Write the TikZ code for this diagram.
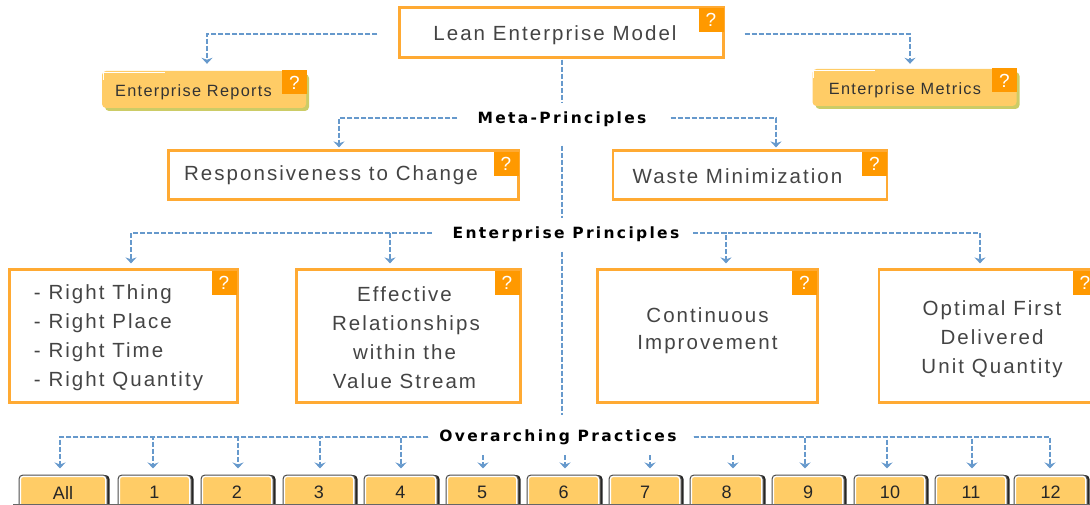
\documentclass[tikz,border=0pt]{standalone}
\usepackage{fontspec}
\setmainfont{Liberation Sans}
\newfontfamily\widefont[LetterSpace=10]{Liberation Sans}
\newfontfamily\goldfont[LetterSpace=8]{Liberation Sans}
\newfontfamily\headfont[LetterSpace=15]{DejaVu Sans Bold}
\usetikzlibrary{arrows.meta}
\definecolor{framecol}{HTML}{FFAA33}
\definecolor{badgecol}{HTML}{FF9900}
\definecolor{goldcol}{HTML}{FFCC66}
\definecolor{olivecol}{HTML}{CCCC66}
\definecolor{linkcol}{HTML}{6699CC}
\definecolor{inkcol}{HTML}{444444}
\newcommand{\padtop}[1]{\rule{0pt}{#1}}
\newcommand{\padend}[1]{\rule[-#1]{0pt}{#1}}
\tikzset{
  framebox/.style={draw=framecol,line width=2.2pt,fill=white,inner sep=0pt,text=inkcol,align=center,font=\widefont\fontsize{20.5}{29}\selectfont},
  badge/.style={fill=badgecol,text=white,inner sep=0pt,minimum width=25pt,minimum height=24pt,font=\fontsize{19}{19}\selectfont},
  goldbox/.style={fill=goldcol,rounded corners=4pt,inner sep=0pt,text=black!80,font=\goldfont\fontsize{16.3}{20}\selectfont,
    preaction={fill=olivecol,transform canvas={shift={(3pt,-3pt)}}}},
  tabbox/.style={draw=black!70,line width=1pt,fill=goldcol,rounded corners=4pt,inner sep=0pt,minimum height=35pt,text=black!85,
    font=\fontsize{18}{20}\selectfont,
    preaction={fill=black!85,transform canvas={shift={(2.5pt,0pt)}}},
    path picture={\draw[white,line width=4pt] (path picture bounding box.south west) rectangle (path picture bounding box.north east);}},
  headlabel/.style={inner sep=0pt,text=black,font=\headfont\fontsize{15.5}{18}\selectfont},
  link/.style={draw=linkcol,line width=1.4pt,dash pattern=on 5pt off 2pt,-{Stealth[width=11pt,length=6pt]}},
  spine/.style={draw=linkcol,line width=2pt,dash pattern=on 5pt off 2pt},
  elbow/.style={to path={-| (\tikztotarget)}},
  glint/.style={draw=white,line width=1pt}
}
\begin{document}
\begin{tikzpicture}[x=1pt,y=-1pt]

        \useasboundingbox (0,0) rectangle (1090,505);

        \begin{scope}[every node/.style={framebox}]
          \node[minimum width=324pt,minimum height=50pt] (lean)  at (561.5,32.5)  {\padtop{21pt}Lean Enterprise Model\kern13pt};
          \node[minimum width=350pt,minimum height=49pt] (resp)  at (343.5,175)  {Responsiveness to Change\kern25pt};
          \node[minimum width=274pt,minimum height=49pt] (waste)  at (750,175)  {\padtop{17pt}Waste Minimization\kern25pt};
          \node[minimum width=228pt,minimum height=133pt,align=left] (right)  at (123.5,336)  {\padtop{19pt}- Right Thing\\- Right Place\\- Right Time\\- Right Quantity\kern10pt};
          \node[minimum width=224pt,minimum height=133pt] (relate)  at (408.5,336)  {\padtop{19pt}Effective\kern8pt\\Relationships\kern5pt\\within the\kern8pt\\Value Stream\kern8pt};
          \node[minimum width=220pt,minimum height=133pt] (improve)  at (707.5,336)  {Continuous\\[-2pt]Improvement\padend{14pt}};
          \node[minimum width=226pt,minimum height=133pt] (unit)  at (992,336)  {\padtop{21pt}Optimal First\\Delivered\\Unit Quantity};
        \end{scope}

        \begin{scope}[every node/.style={goldbox}]
          \node[minimum width=204pt,minimum height=37pt] (reports)  at (204,89.5)  {\padtop{18pt}Enterprise Reports\kern21pt};
          \node[minimum width=204pt,minimum height=37pt] (metrics)  at (914.5,87.5)  {\padtop{18pt}Enterprise Metrics\kern19pt};
        \end{scope}

        \draw[glint] (103.5,80) |- (165,72.5);
        \draw[glint] (813.5,78) |- (875,70.5);

        \begin{scope}[every node/.style={badge}]
          \node (q1)  at (711,20)  {?};
          \node (q2)  at (294.5,82.5)  {?};
          \node (q3)  at (1004.5,80.5)  {?};
          \node (q4)  at (506,164)  {?};
          \node (q5)  at (874.5,164)  {?};
          \node (q6)  at (224,283)  {?};
          \node (q7)  at (507,283)  {?};
          \node (q8)  at (804.5,283)  {?};
          \node (q9)  at (1085,283)  {?};
        \end{scope}

        \begin{scope}[every node/.style={headlabel}]
          \node (meta)  at (562,119)  {Meta-Principles};
          \node (enterprise)  at (566,234)  {Enterprise Principles};
          \node (overarching)  at (558,437)  {Overarching Practices};
        \end{scope}

        \begin{scope}[every node/.style={tabbox}]
          \node[minimum width=88pt] (all)  at (63,492.5)  {All};
          \node[minimum width=73pt] (t1)  at (154.5,492.5)  {1};
          \node[minimum width=72pt] (t2)  at (237,492.5)  {2};
          \node[minimum width=72pt] (t3)  at (319,492.5)  {3};
          \node[minimum width=73pt] (t4)  at (400.5,492.5)  {4};
          \node[minimum width=72pt] (t5)  at (482,492.5)  {5};
          \node[minimum width=73pt] (t6)  at (563.5,492.5)  {6};
          \node[minimum width=72pt] (t7)  at (645,492.5)  {7};
          \node[minimum width=73pt] (t8)  at (726.5,492.5)  {8};
          \node[minimum width=72pt] (t9)  at (808,492.5)  {9};
          \node[minimum width=72pt] (t10)  at (890,492.5)  {10};
          \node[minimum width=72pt] (t11)  at (971,492.5)  {11};
          \node[minimum width=73pt] (t12)  at (1050.5,492.5)  {12};
        \end{scope}

        \coordinate (g1) at (13,504);
        \coordinate (g2) at (1090,504);
        \draw[black!60,line width=1pt] (g1) -- (g2);

        \coordinate (p5) at (483,455);
        \coordinate (p6) at (565,455);
        \coordinate (p7) at (650,455);
        \coordinate (p8) at (733,455);

        \begin{scope}[every edge/.style={link,elbow}]
          \path ([yshift=-1.5pt]lean.west)  edge[shorten <=21pt,shorten >=7pt] ([xshift=3pt]reports.north);
          \path ([yshift=-1.5pt]lean.east)  edge[shorten <=20pt,shorten >=5pt] ([xshift=-4.5pt]metrics.north);
          \path ([yshift=1pt]meta.west)  edge[shorten <=20pt,shorten >=2pt] ([xshift=-4.5pt]resp.north);
          \path ([yshift=1pt]meta.east)  edge[shorten <=24pt,shorten >=2pt] ([xshift=26pt]waste.north);
          \path ([yshift=1pt]enterprise.west)  edge[shorten <=21pt,shorten >=5pt] ([xshift=7.5pt]right.north);
          \path ([yshift=1pt]enterprise.west)  edge[shorten <=21pt,shorten >=5pt] ([xshift=-18.5pt]relate.north);
          \path ([yshift=1pt]enterprise.east)  edge[shorten <=14pt,shorten >=5pt] ([xshift=18.5pt]improve.north);
          \path ([yshift=1pt]enterprise.east)  edge[shorten <=14pt,shorten >=5pt] ([xshift=-12pt]unit.north);
          \path (overarching.west)  edge[shorten <=11pt,shorten >=6pt] ([xshift=-3pt]all.north);
          \path (overarching.west)  edge[shorten <=11pt,shorten >=6pt] ([xshift=-1.5pt]t1.north);
          \path (overarching.west)  edge[shorten <=11pt,shorten >=6pt] ([xshift=1pt]t2.north);
          \path (overarching.west)  edge[shorten <=11pt,shorten >=6pt] ([xshift=1pt]t3.north);
          \path (overarching.west)  edge[shorten <=11pt,shorten >=6pt] ([xshift=.5pt]t4.north);
          \path (overarching.east)  edge[shorten <=17pt,shorten >=6pt] ([xshift=-3pt]t9.north);
          \path (overarching.east)  edge[shorten <=17pt,shorten >=6pt] ([xshift=-3pt]t10.north);
          \path (overarching.east)  edge[shorten <=17pt,shorten >=6pt] ([xshift=1pt]t11.north);
          \path (overarching.east)  edge[shorten <=17pt,shorten >=6pt] ([xshift=-.5pt]t12.north);
        \end{scope}

        \begin{scope}[every edge/.style={link,shorten >=6pt}]
          \path (p5)  edge (p5 |- t5.north);
          \path (p6)  edge (p6 |- t6.north);
          \path (p7)  edge (p7 |- t7.north);
          \path (p8)  edge (p8 |- t8.north);
        \end{scope}

        \begin{scope}[every edge/.style={spine}]
          \path (lean.south)  edge[shorten <=1pt,shorten >=9pt] (lean.south |- meta.north);
          \path (lean.south |- meta.south)  edge[shorten <=19pt,shorten >=8pt] (lean.south |- enterprise.north);
          \path (lean.south |- enterprise.south)  edge[shorten <=10pt,shorten >=14pt] (lean.south |- overarching.north);
        \end{scope}

      \end{tikzpicture}
\end{document}
